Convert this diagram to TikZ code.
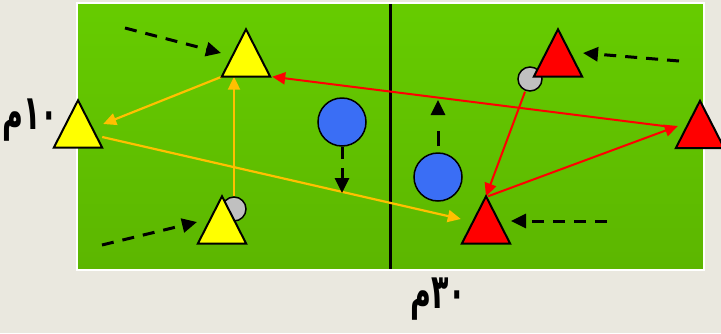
\documentclass[tikz,border=0pt]{standalone}
\usepackage{fontspec}
\usetikzlibrary{arrows.meta,calc,backgrounds}
\TeXXeTstate=1
\newfontfamily\arabicfont[Script=Arabic]{DejaVu Sans}
\definecolor{bgc}{HTML}{EAE8DF}
\definecolor{fieldtop}{HTML}{66CC00}
\definecolor{fieldbot}{HTML}{5CB600}
\definecolor{ylw}{HTML}{FFFF00}
\definecolor{rd}{HTML}{FF0000}
\definecolor{yline}{HTML}{FFC000}
\definecolor{rline}{HTML}{FF0000}
\definecolor{blueball}{HTML}{3A6EF5}
\definecolor{grayball}{HTML}{C0C0C0}
\tikzset{
  tribox/.style={rectangle, draw=none, inner sep=0pt, minimum width=48pt, minimum height=47pt},
  gball/.style={circle, draw=black, line width=1.5pt, fill=grayball, minimum size=24pt, inner sep=0pt},
  bball/.style={circle, draw=black, line width=1.5pt, fill=blueball, minimum size=48pt, inner sep=0pt},
  yarrow/.style={draw=yline, line width=2.2pt, -{Triangle[length=13pt,width=12pt]}},
  rarrow/.style={draw=rline, line width=2pt, -{Triangle[length=13pt,width=12pt]}},
  darrow/.style={draw=black, line width=3pt, dash pattern=on 12pt off 9pt, -{Triangle[length=15pt,width=14pt]}},
  lbl/.style={font=\arabicfont\bfseries\fontsize{46}{46}\selectfont, inner sep=0pt, anchor=base, xscale=0.62, yscale=1.05, text=black},
}
\begin{document}
\begin{tikzpicture}[x=1pt,y=-1pt]
\useasboundingbox (0,0) rectangle (721,333);
% gray balls (behind triangles)
\node[gball] (g1) at (234,209) {};
\node[gball] (g2) at (530,79) {};
% triangle boxes
\node[tribox] (ty) at (246,53) {};
\node[tribox] (ly) at (78,124) {};
\node[tribox] (by) at (222,220) {};
\node[tribox] (tr) at (558,53) {};
\node[tribox] (rr) at (700,124.5) {};
\node[tribox] (br) at (486,220) {};
\foreach \n/\c in {ty/ylw,ly/ylw,by/ylw,tr/rd,rr/rd,br/rd}
  \draw[line width=2pt, line join=miter, fill=\c] (\n.south west) -- (\n.north) -- (\n.south east) -- cycle;
% blue balls
\node[bball] (b1) at (342,122) {};
\node[bball] (b2) at (438,177) {};
% free ends of dashed runs
\coordinate (d1s) at (125,28);
\coordinate (d1e) at (221,53);
\coordinate (d2s) at (102,245);
\coordinate (d2e) at (197,222);
\coordinate (d3s) at (679,61);
\coordinate (d3e) at (583,53);
\coordinate (d4s) at (607,221);
\coordinate (d4e) at (511,221);
\coordinate (d5e) at (342,193);
\coordinate (d6e) at (438,100);
% labels
\node[lbl] (l10) at (30,129) {\beginR ١٠م\endR};
\node[lbl] (l30) at (438,308) {\beginR ٣٠م\endR};
\begin{scope}[on background layer]
  \fill[bgc] (0,0) rectangle (721,333);
  \shade[top color=fieldtop, bottom color=fieldbot] (77,3) rectangle (704,270);
  \draw[white, line width=2pt] (77,3) rectangle (704,270);
  \draw[black, line width=3pt] (390,4) -- (390,269);
  % yellow passes
  \draw[yarrow] (ty.south west) -- ($(ly.east)+(1,0)$);
  \draw[yarrow] ($(ly.east)+(0,13)$) -- ($(br.west)+(-1,-1)$);
  \draw[yarrow] (g1.north) -- (g1.north |- ty.south);
  % red passes
  \draw[rarrow] ($(rr.west)+(-8,2)$) -- ($(ty.south east)+(2,0)$);
  \draw[rarrow] ($(g2.south)+(-5,0)$) -- (br.north);
  \draw[rarrow] ($(br.north)+(2,0)$) -- ($(rr.west)+(2,1.5)$);
  % dashed runs
  \draw[darrow] (d1s) -- (d1e);
  \draw[darrow] (d2s) -- (d2e);
  \draw[darrow] (d3s) -- (d3e);
  \draw[darrow] (d4s) -- (d4e);
  \draw[darrow] (b1.south) -- (d5e);
  \draw[darrow, dash pattern=on 0pt off 6pt on 15pt off 17pt] (b2.north) -- (d6e);
\end{scope}
\end{tikzpicture}
\end{document}
